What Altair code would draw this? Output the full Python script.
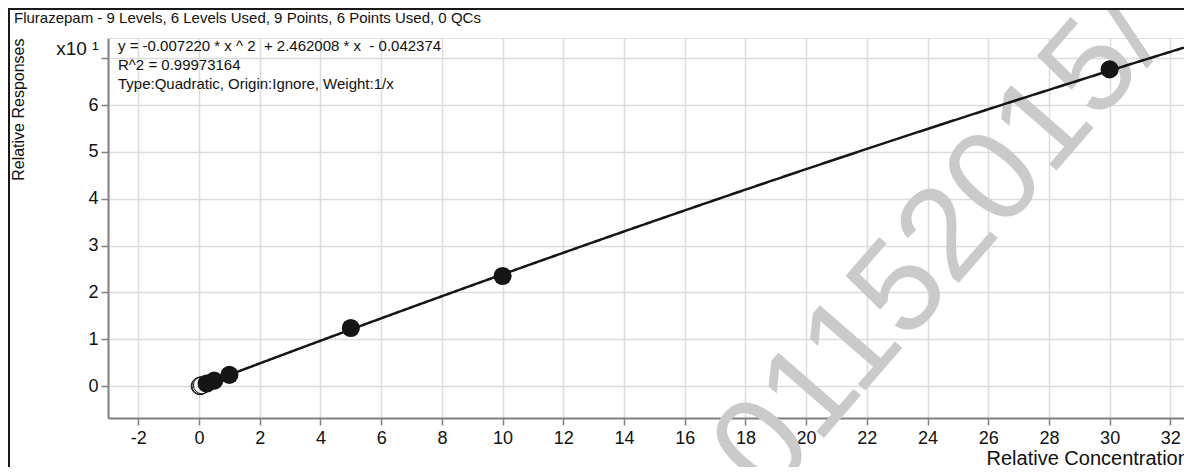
import altair as alt
import pandas as pd

# ---- data ----
title_text = "Flurazepam - 9 Levels, 6 Levels Used, 9 Points, 6 Points Used, 0 QCs"
equation_lines = [
    "y = -0.007220 * x ^ 2\u00a0 + 2.462008 * x\u00a0 - 0.042374",
    "R^2 = 0.99973164",
    "Type:Quadratic, Origin:Ignore, Weight:1/x",
]
fit_coefficients = [-0.007220, 2.462008, -0.042374]  # a, b, c of the fitted quadratic
levels = [0.025, 0.05, 0.1, 0.25, 0.5, 1, 5, 10, 30]
responses = [0.02, 0.08, 0.2, 0.57, 1.19, 2.41, 12.4, 23.5, 67.6]
used = [False, False, False, True, True, True, True, True, True]
x_ticks = [-2, 0, 2, 4, 6, 8, 10, 12, 14, 16, 18, 20, 22, 24, 26, 28, 30, 32]
y_ticks = [0, 10, 20, 30, 40, 50, 60, 70]
watermark_text = "01152015/"

FONT = "Liberation Sans"
W, H = 1076, 380
x_domain = [-3, 32.45]
y_domain = [-6.8, 74.3]

pts = pd.DataFrame({"x": levels, "y": responses, "used": used})
pts_used = pts[pts["used"]]
pts_unused = pts[~pts["used"]]

xs = alt.Scale(domain=x_domain, nice=False, zero=False)
ys = alt.Scale(domain=y_domain, nice=False, zero=False)

x_axis = alt.Axis(
    values=x_ticks, grid=True, gridColor="#dcdcdc", gridWidth=1.5,
    domainColor="#808080", domainWidth=2, tickColor="#808080", tickWidth=1.5,
    tickSize=7, labelFont=FONT, labelFontSize=18, labelColor="#111111",
    labelPadding=4, labelFlush=False, labelOverlap=False,
    labelExpr="'' + datum.value",
    title="Relative Concentration", titleFont=FONT, titleFontSize=20,
    titleFontWeight="normal", titleColor="#111111", titleX=878, titleY=46,
    titleAlign="left", titleBaseline="alphabetic",
)
y_axis = alt.Axis(
    values=y_ticks, grid=True, gridColor="#dcdcdc", gridWidth=1.5,
    domainColor="#808080", domainWidth=2, tickColor="#808080", tickWidth=1.5,
    tickSize=7, labelFont=FONT, labelColor="#111111",
    labelFontSize={"condition": {"test": "datum.value == 70", "value": 19}, "value": 18},
    labelBaseline={"condition": {"test": "datum.value == 70", "value": "bottom"}, "value": "middle"},
    labelPadding=3, labelFlush=False, labelOverlap=False,
    labelExpr="datum.value == 70 ? 'x10 \u00b9' : format(datum.value / 10, 'd')",
    title="Relative Responses", titleFont=FONT, titleFontSize=16,
    titleFontWeight="normal", titleColor="#111111", titleX=-90, titleY=0,
    titleAngle=270, titleAlign="right", titleBaseline="middle",
)

def xenc():
    return alt.X("x:Q", scale=xs, axis=x_axis)

def yenc():
    return alt.Y("y:Q", scale=ys, axis=y_axis)

one = pd.DataFrame({"k": [0]})

frame_top = alt.Chart(one).mark_rule(color="#1a1a1a", strokeWidth=2, clip=False).encode(
    x=alt.value(-100), x2=alt.value(W), y=alt.value(-29)
)
frame_left = alt.Chart(one).mark_rule(color="#1a1a1a", strokeWidth=2, clip=False).encode(
    x=alt.value(-99), y=alt.value(-30), y2=alt.value(H + 70)
)

title_layer = alt.Chart(pd.DataFrame({"t": [title_text]})).mark_text(
    font=FONT, fontSize=15, color="#111111", align="left", baseline="middle", clip=False
).encode(text="t:N", x=alt.value(-94), y=alt.value(-20))

watermark = alt.Chart(pd.DataFrame({"t": [watermark_text]})).mark_text(
    font=FONT, fontSize=131, color="#cacaca", align="center", baseline="middle",
    angle=311, clip=False
).encode(text="t:N", x=alt.value(832), y=alt.value(207))

a, b, c = fit_coefficients
curve = alt.Chart(alt.sequence(0, 32.46, 0.05, as_="x")).transform_calculate(
    y=f"{a} * datum.x * datum.x + {b} * datum.x + ({c})"
).mark_line(color="#151515", strokeWidth=2.5, clip=True).encode(x=xenc(), y=yenc())

hollow = alt.Chart(pts_unused).mark_point(
    shape="circle", size=300, filled=False, color="#151515", strokeWidth=1, opacity=1
).encode(x=xenc(), y=yenc())

filled = alt.Chart(pts_used).mark_circle(
    size=330, color="#151515", opacity=1
).encode(x=xenc(), y=yenc())

eq_layers = []
for line_text, ypix in zip(equation_lines, [8, 27, 46]):
    eq_layers.append(
        alt.Chart(pd.DataFrame({"t": [line_text]})).mark_text(
            font=FONT, fontSize=15, color="#111111", align="left", baseline="middle"
        ).encode(text="t:N", x=alt.value(10), y=alt.value(ypix))
    )

chart = alt.layer(
    watermark, curve, hollow, filled, *eq_layers, frame_top, frame_left, title_layer
).properties(
    width=W, height=H,
    autosize=alt.AutoSizeParams(type="none"),
    padding={"left": 100, "top": 30, "right": 0, "bottom": 49},
).configure_view(stroke=None).configure(background="white")

chart.save("out.html", embed_options={"renderer": "svg", "actions": False})
